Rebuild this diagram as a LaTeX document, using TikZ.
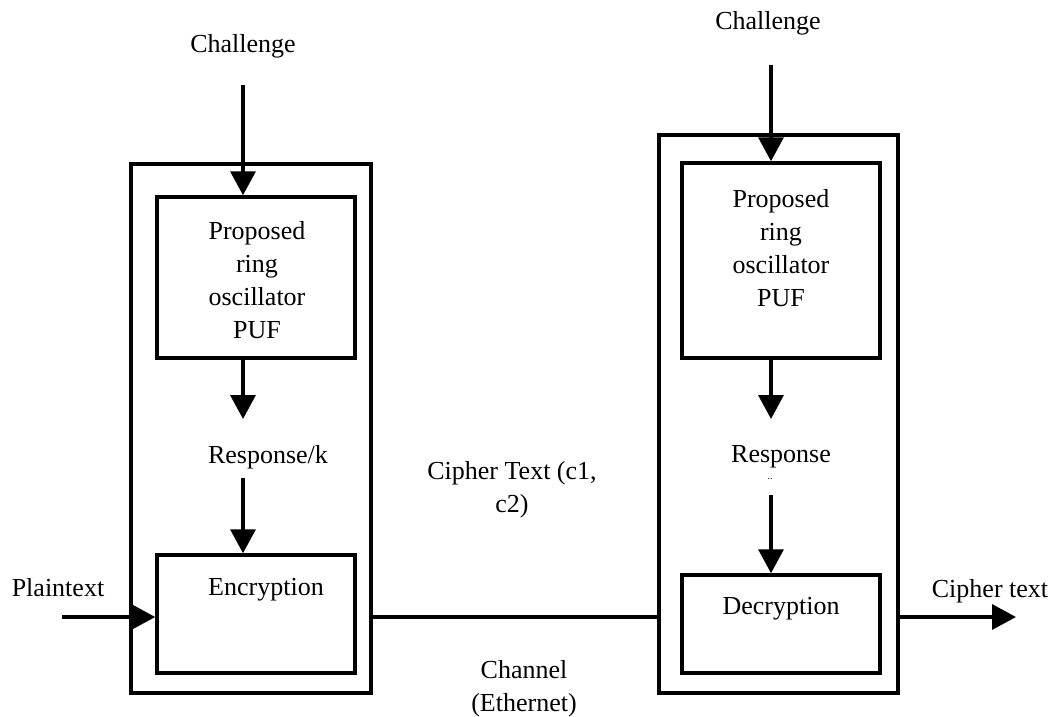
\documentclass[tikz,border=0pt]{standalone}
\usepackage{fontspec}
\setmainfont{Liberation Serif}
\usetikzlibrary{arrows.meta}
\begin{document}
\begin{tikzpicture}[x=1pt,y=-1pt,
  frame/.style={draw, line width=3.5pt, inner sep=0pt},
  lbl/.style={font=\fontsize{26}{33}\selectfont, align=center, inner sep=0pt},
  flow/.style={line width=3.5pt, -{Triangle[length=24pt,width=25pt]}},
  wire/.style={line width=3.5pt}]
\useasboundingbox (0,0) rectangle (1052,717);

% sender side
\node[frame, minimum width=240pt, minimum height=529pt] (outL) at (251,428.5) {};
\node[frame, minimum width=198pt, minimum height=161pt] (pufL) at (256,277.5) {};
\node[frame, minimum width=198pt, minimum height=118pt] (encL) at (256,614) {};
\node[lbl] (pufLt) at (257,280) {Proposed\\ring\\oscillator\\PUF};
\node[lbl] (encLt) at (266,590) {Encryption};

% receiver side
\node[frame, minimum width=239pt, minimum height=558pt] (outR) at (778.5,414) {};
\node[frame, minimum width=198pt, minimum height=195pt] (pufR) at (781,260.5) {};
\node[frame, minimum width=198pt, minimum height=98pt] (decR) at (781,624) {};
\node[lbl] (pufRt) at (781,248) {Proposed\\ring\\oscillator\\PUF};
\node[lbl] (decRt) at (781,609) {Decryption};

% labels
\node[lbl] (chL) at (243,46) {Challenge};
\node[lbl] (chR) at (768,23) {Challenge};
\node[lbl] (respL) at (268,457) {Response/k};
\node[lbl] (respR) at (781,457) {Response};
\node[font=\fontsize{10}{10}\selectfont, inner sep=0pt] (dots) at (770,479) {..};
\node[lbl] (plain) at (58,588) {Plaintext};
\node[lbl] (cout) at (990,591) {Cipher text};
\node[lbl] (ctext) at (512,490) {Cipher Text (c1,\\c2)};
\node[lbl] (chan) at (524,689) {Channel\\(Ethernet)};

% arrow end points
\coordinate (chLa) at (243,85);
\coordinate (respLa) at (243,419);
\coordinate (respLb) at (243,478);
\coordinate (chRa) at (771,65);
\coordinate (respRa) at (771,419);
\coordinate (respRb) at (771,495);
\coordinate (plainA) at (62,617);
\coordinate (coutA) at (1016,617);

% connectors
\draw[flow] (chLa) -- (chLa |- pufL.north);
\draw[flow] (pufL.south -| chLa) -- (respLa);
\draw[flow] (respLb) -- (respLb |- encL.north);
\draw[flow] (chRa) -- (chRa |- pufR.north);
\draw[flow] (pufR.south -| chRa) -- (respRa);
\draw[flow] (respRb) -- (respRb |- decR.north);
\draw[flow] (plainA) -- (plainA -| encL.west);
\draw[wire] (plainA -| outL.east) -- (plainA -| outR.west);
\draw[flow] (plainA -| outR.east) -- (coutA);
\end{tikzpicture}
\end{document}
